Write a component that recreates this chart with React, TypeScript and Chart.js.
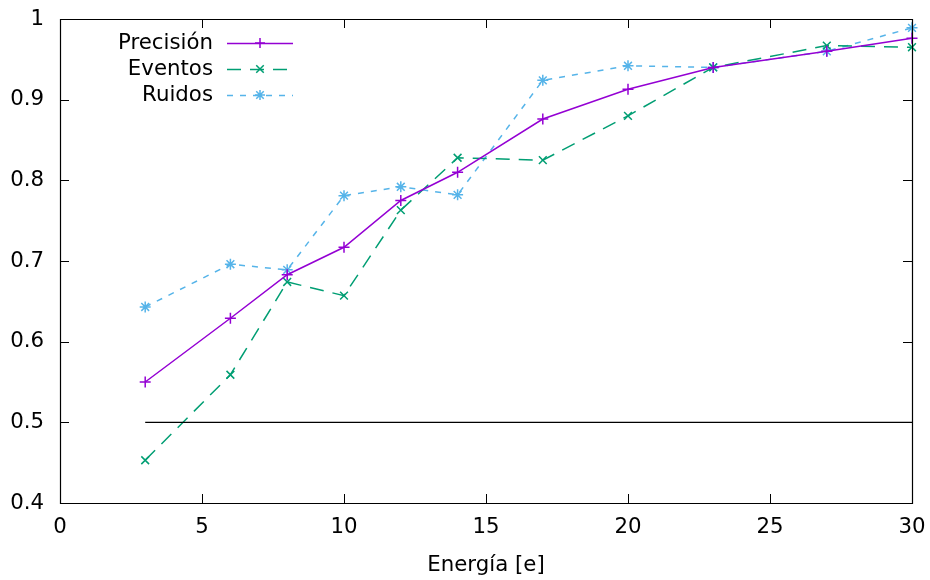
import React, { useEffect, useRef } from "react";
import { Chart, registerables } from "chart.js";

Chart.register(...registerables);

const energies = [3, 6, 8, 10, 12, 14, 17, 20, 23, 27, 30];
const precision = [0.55, 0.629, 0.683, 0.717, 0.775, 0.81, 0.876, 0.913, 0.94, 0.96, 0.976];
const eventos = [0.453, 0.559, 0.674, 0.657, 0.763, 0.828, 0.825, 0.88, 0.94, 0.967, 0.965];
const ruidos = [0.643, 0.696, 0.689, 0.781, 0.792, 0.782, 0.924, 0.942, 0.94, 0.96, 0.989];
const baselineX = [3, 30];
const baselineY = [0.5, 0.5];
const xTicks = [0, 5, 10, 15, 20, 25, 30];
const yTicks = [0.4, 0.5, 0.6, 0.7, 0.8, 0.9, 1];
const seriesNames = ["Precisión", "Eventos", "Ruidos"];
const xTitle = "Energía [e]";

const FONT = "'DejaVu Sans', sans-serif";
const FS = 21.3;
const COLORS = ["#9400d3", "#009e73", "#56b4e9"];
const DASHES: number[][] = [[], [14, 9], [6, 7]];
const POINTS = ["cross", "crossRot", "star"];

const pts = (xs: number[], ys: number[]) => xs.map((x, i) => ({ x, y: ys[i] }));

const framePlugin = {
  id: "frame",
  afterDatasetsDraw(chart: any) {
    const { ctx, chartArea: a, scales } = chart;
    ctx.save();
    ctx.strokeStyle = "#000";
    ctx.lineWidth = 1.2;
    ctx.setLineDash([]);
    ctx.beginPath();
    ctx.rect(Math.round(a.left) + 0.5, Math.round(a.top) + 0.5, Math.round(a.right - a.left), Math.round(a.bottom - a.top));
    ctx.stroke();
    const tl = 9;
    ctx.lineWidth = 1;
    ctx.beginPath();
    for (const v of xTicks) {
      const px = Math.round(scales.x.getPixelForValue(v)) + 0.5;
      ctx.moveTo(px, a.bottom);
      ctx.lineTo(px, a.bottom - tl);
      ctx.moveTo(px, a.top);
      ctx.lineTo(px, a.top + tl);
    }
    for (const v of yTicks) {
      const py = Math.round(scales.y.getPixelForValue(v)) + 0.5;
      ctx.moveTo(a.left, py);
      ctx.lineTo(a.left + tl, py);
      ctx.moveTo(a.right, py);
      ctx.lineTo(a.right - tl, py);
    }
    ctx.stroke();

    // legend
    ctx.font = `${FS}px ${FONT}`;
    ctx.textAlign = "right";
    ctx.textBaseline = "middle";
    seriesNames.forEach((name, i) => {
      const y = 43 + i * 26;
      ctx.fillStyle = "#000";
      ctx.fillText(name, 213, y);
      ctx.strokeStyle = COLORS[i];
      ctx.lineWidth = 1.5;
      ctx.setLineDash(DASHES[i]);
      ctx.beginPath();
      ctx.moveTo(227, y + 0.5);
      ctx.lineTo(293, y + 0.5);
      ctx.stroke();
      ctx.setLineDash([]);
      ctx.beginPath();
      const cx = 260, r = 5;
      if (i === 0 || i === 2) {
        ctx.moveTo(cx - r, y); ctx.lineTo(cx + r, y);
        ctx.moveTo(cx, y - r); ctx.lineTo(cx, y + r);
      }
      if (i === 1 || i === 2) {
        const d = r * 0.75;
        ctx.moveTo(cx - d, y - d); ctx.lineTo(cx + d, y + d);
        ctx.moveTo(cx - d, y + d); ctx.lineTo(cx + d, y - d);
      }
      ctx.stroke();
    });
    ctx.restore();
  },
};

export default function App() {
  const ref = useRef<HTMLCanvasElement>(null);
  useEffect(() => {
    if (!ref.current) return;
    const mk = (i: number, data: number[]) => ({
      label: seriesNames[i],
      data: pts(energies, data),
      borderColor: COLORS[i],
      backgroundColor: COLORS[i],
      borderWidth: 1.5,
      borderDash: DASHES[i],
      pointStyle: POINTS[i],
      pointRadius: 5.5,
      pointBorderWidth: 1.5,
      pointBorderColor: COLORS[i],
      tension: 0,
      showLine: true,
      clip: false as any,
    });
    const chart = new Chart(ref.current, {
      type: "scatter",
      data: {
        datasets: [
          {
            label: "base",
            data: pts(baselineX, baselineY),
            borderColor: "#000",
            borderWidth: 1.3,
            pointRadius: 0,
            showLine: true,
            clip: false as any,
          } as any,
          mk(0, precision),
          mk(1, eventos),
          mk(2, ruidos),
        ],
      },
      options: {
        responsive: false,
        animation: false,
        layout: { padding: { top: 19, right: 18, left: 0, bottom: 0 } },
        plugins: { legend: { display: false }, tooltip: { enabled: false } },
        scales: {
          x: {
            type: "linear",
            min: 0,
            max: 30,
            grid: { display: false, drawTicks: false },
            border: { display: false },
            afterBuildTicks: (s: any) => { s.ticks = xTicks.map((v) => ({ value: v })); },
            afterFit: (s: any) => { s.height = 77; s.paddingLeft = 0; s.paddingRight = 0; },
            ticks: { color: "#000", font: { family: FONT, size: FS }, padding: 12, maxRotation: 0, callback: (v: any) => String(v) },
            title: { display: true, text: xTitle, color: "#000", font: { family: FONT, size: FS }, padding: { top: 4, bottom: 2 } },
          },
          y: {
            type: "linear",
            min: 0.4,
            max: 1,
            grid: { display: false, drawTicks: false },
            border: { display: false },
            afterBuildTicks: (s: any) => { s.ticks = yTicks.map((v) => ({ value: v })); },
            afterFit: (s: any) => { s.width = 60; s.paddingTop = 0; s.paddingBottom = 0; },
            ticks: { color: "#000", font: { family: FONT, size: FS }, padding: 16, callback: (v: any) => String(Math.round(v * 10) / 10) },
          },
        },
      },
      plugins: [framePlugin],
    });
    return () => chart.destroy();
  }, []);
  return (
    <div style={{ position: "fixed", left: 0, top: 0, width: 930, height: 580, background: "#fff" }}>
      <canvas ref={ref} width={930} height={580} />
    </div>
  );
}
